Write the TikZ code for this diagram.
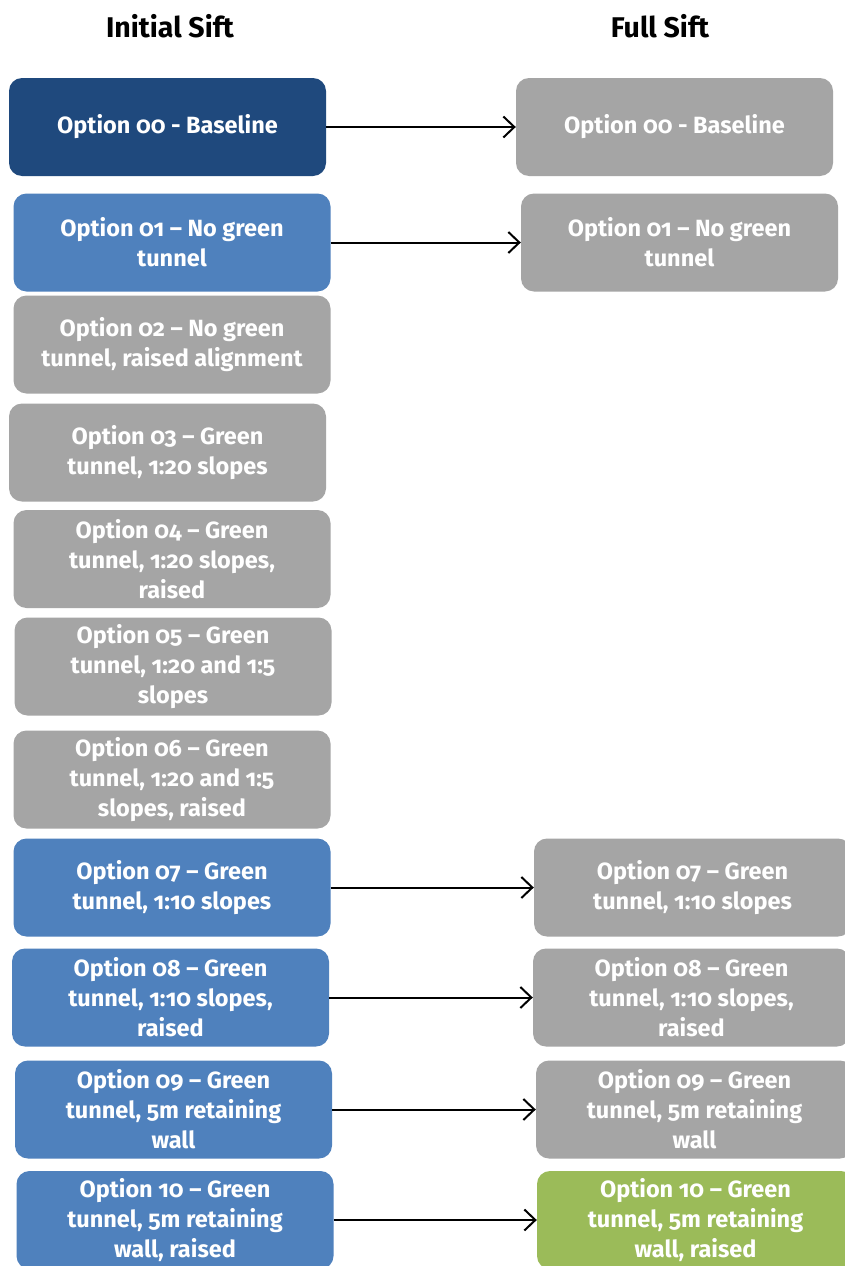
\documentclass[tikz,border=0pt]{standalone}
\usepackage{fontspec}
\setmainfont{Fira Sans}[Numbers=OldStyle]
\usetikzlibrary{arrows.meta}
\definecolor{navy}{HTML}{1F497D}
\definecolor{midblue}{HTML}{4F81BD}
\definecolor{greybox}{HTML}{A5A5A5}
\definecolor{leaf}{HTML}{9BBB59}
\tikzset{
  optbox/.style={rectangle, rounded corners=13pt, draw=none, minimum width=317pt,
    minimum height=98pt, inner sep=0pt, align=center, text=white,
    font=\fontsize{23.5}{30}\selectfont\bfseries},
  darkbox/.style={optbox, fill=navy},
  bluebox/.style={optbox, fill=midblue},
  greybx/.style={optbox, fill=greybox},
  greenbox/.style={optbox, fill=leaf},
  heading/.style={font=\fontsize{28.5}{32}\selectfont\bfseries, text=black},
  flow/.style={draw=black, line width=2pt, -{Straight Barb[length=11pt,width=21pt,line width=2pt]}}
}
\begin{document}
\begin{tikzpicture}[x=1pt,y=-1pt]
\useasboundingbox (0,0) rectangle (845,1266);
\fill[white] (0,0) rectangle (845,1266);
\clip (0,0) rectangle (845,1266);

% column headings
\node[heading] (hinit) at (170,26) {Initial Sift};
\node[heading] (hfull) at (660,26) {Full Sift};

% initial sift column
\node[darkbox]  (l00) at (167.5,127)  {Option 00 - Baseline};
\node[bluebox]  (l01) at (172,242.5)  {Option 01 – No green\\tunnel};
\node[greybx]   (l02) at (172,344.5)  {Option 02 – No green\\tunnel, raised alignment};
\node[greybx]   (l03) at (167.5,452.5){Option 03 – Green\\tunnel, 1:20 slopes};
\node[greybx]   (l04) at (172,559)    {Option 04 – Green\\tunnel, 1:20 slopes,\\raised};
\node[greybx]   (l05) at (173,666.5)  {Option 05 – Green\\tunnel, 1:20 and 1:5\\slopes};
\node[greybx]   (l06) at (172,779.5)  {Option 06 – Green\\tunnel, 1:20 and 1:5\\slopes, raised};
\node[bluebox]  (l07) at (172,887.5)  {Option 07 – Green\\tunnel, 1:10 slopes};
\node[bluebox]  (l08) at (170.5,997.5){Option 08 – Green\\tunnel, 1:10 slopes,\\raised};
\node[bluebox]  (l09) at (173.5,1109.5){Option 09 – Green\\tunnel, 5m retaining\\wall};
\node[bluebox]  (l10) at (175,1220)   {Option 10 – Green\\tunnel, 5m retaining\\wall, raised};

% full sift column
\node[greybx]   (r00) at (674.5,127)  {Option 00 - Baseline};
\node[greybx]   (r01) at (679.5,242.5){Option 01 – No green\\tunnel};
\node[greybx]   (r07) at (692.5,887.5){Option 07 – Green\\tunnel, 1:10 slopes};
\node[greybx]   (r08) at (691.5,997.5){Option 08 – Green\\tunnel, 1:10 slopes,\\raised};
\node[greybx]   (r09) at (694.5,1109.5){Option 09 – Green\\tunnel, 5m retaining\\wall};
\node[greenbox] (r10) at (695.5,1220) {Option 10 – Green\\tunnel, 5m retaining\\wall, raised};

% options carried forward
\draw[flow] (l00.east) -- (r00.west);
\draw[flow] (l01.east) -- (r01.west);
\draw[flow] (l07.east) -- (r07.west);
\draw[flow] (l08.east) -- (r08.west);
\draw[flow] (l09.east) -- (r09.west);
\draw[flow] (l10.east) -- (r10.west);
\end{tikzpicture}
\end{document}
